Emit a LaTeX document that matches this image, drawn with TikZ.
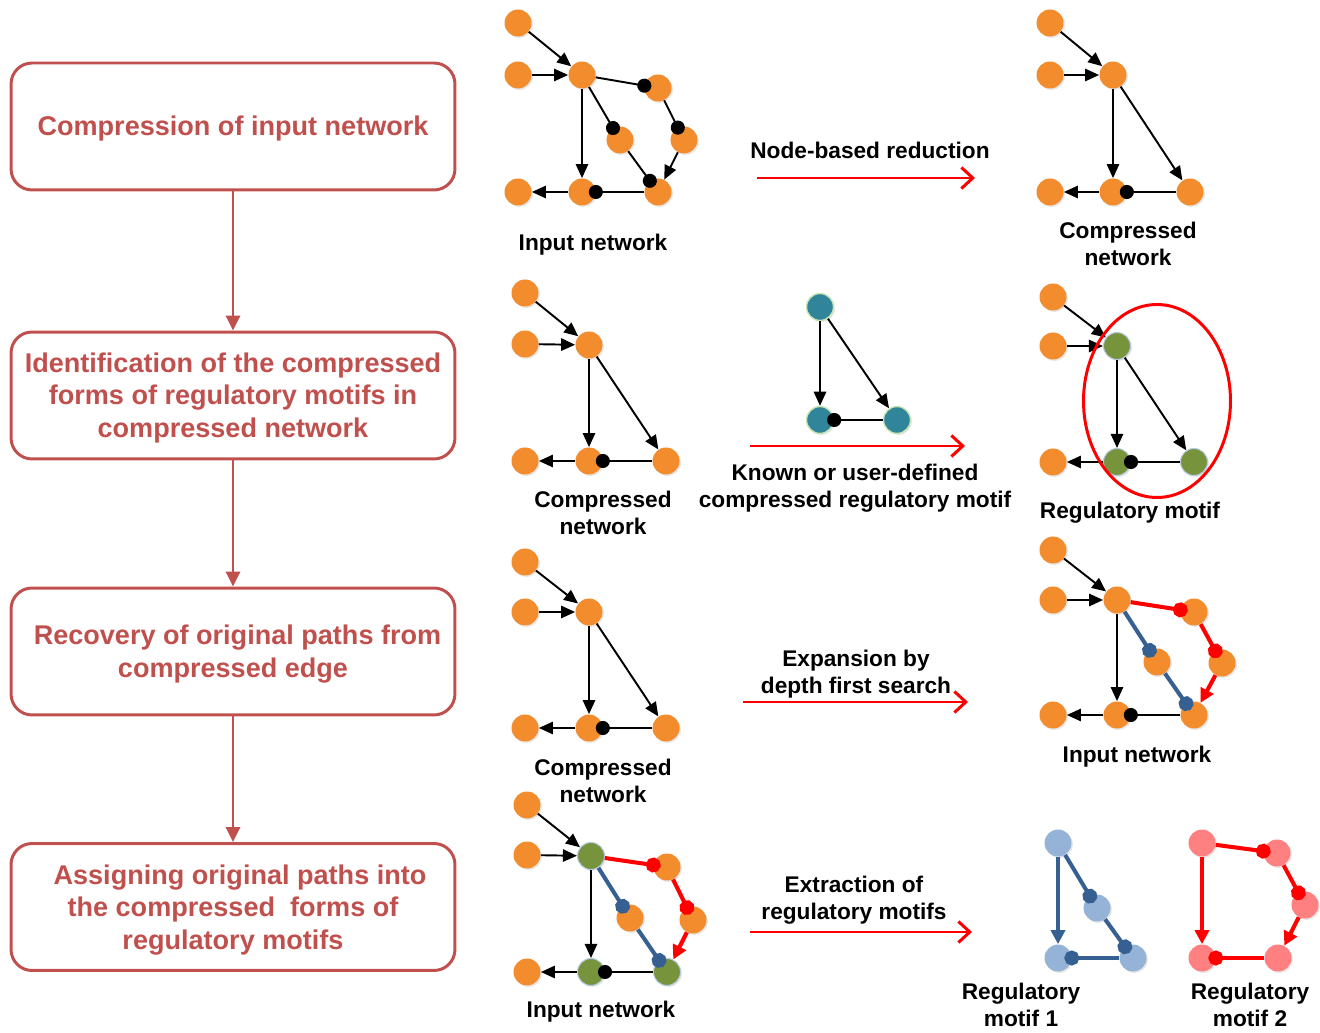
\documentclass[tikz,border=0pt]{standalone}
\usepackage{fontspec}
\setmainfont{Liberation Sans}
\usetikzlibrary{arrows.meta,shadows}

\definecolor{boxred}{RGB}{192,80,77}
\definecolor{nodeorange}{RGB}{242,140,45}
\definecolor{nodegreen}{RGB}{119,147,60}
\definecolor{nodeteal}{RGB}{49,133,155}
\definecolor{lightblue}{RGB}{149,179,215}
\definecolor{lightpink}{RGB}{255,128,128}
\definecolor{pathblue}{RGB}{55,96,146}
\definecolor{rimgreen}{RGB}{200,228,180}

\tikzset{
  stage/.style={draw=boxred, line width=1.7pt, rounded corners=0.42cm,
    minimum width=8.88cm, minimum height=2.54cm},
  stagetext/.style={align=center, text=boxred, inner sep=0pt,
    font=\fontsize{15.4}{18.4}\selectfont\bfseries},
  flow/.style={draw=boxred, line width=1.7pt, -{Triangle[length=8.5pt,width=8pt]}},
  caption/.style={align=center, font=\fontsize{12.9}{15.3}\selectfont\bfseries},
  stepto/.style={red, line width=1.7pt, -{Straight Barb[length=6.5pt,width=12pt]}},
  onode/.style={circle, inner sep=0pt, minimum size=0.54cm, fill=nodeorange,
    drop shadow={opacity=0.2, shadow xshift=0.8pt, shadow yshift=-0.8pt}},
  gnode/.style={onode, fill=nodegreen, draw=lightblue!70, line width=0.6pt},
  tnode/.style={onode, fill=nodeteal, draw=rimgreen, line width=0.8pt},
  bnode/.style={onode, fill=lightblue},
  pnode/.style={onode, fill=lightpink},
  act/.style={line width=1.1pt, -{Triangle[length=8pt,width=7pt]}},
  inh/.style={line width=1.1pt, -{Circle[length=8pt]}, shorten >=-4pt},
  redact/.style={red, line width=2.3pt, -{Triangle[length=8pt,width=8pt]}},
  redinh/.style={red, line width=2.3pt, -{Circle[length=8.5pt]}, shorten >=-4.25pt},
  blueact/.style={pathblue, line width=2.3pt, -{Triangle[length=8pt,width=8pt]}},
  blueinh/.style={pathblue, line width=2.3pt, -{Circle[length=8.5pt]}, shorten >=-4.25pt}
}

\begin{document}
\begin{tikzpicture}[x=0.02cm, y=-0.02cm]
  \useasboundingbox (0,0) rectangle (1320,1033);

  % workflow column
  \node[stage] (s1) at (233,126.5) {};
  \node[stage] (s2) at (233,395.5) {};
  \node[stage] (s3) at (233,651.5) {};
  \node[stage] (s4) at (233,907) {};
  \node[stagetext] (s1t) at (233,129) {Compression of input network};
  \node[stagetext] (s2t) at (233,398) {Identification of the compressed\\forms of regulatory motifs in\\compressed network};
  \node[stagetext] (s3t) at (233,654) {\hspace*{0.18cm}Recovery of original paths from\\compressed edge};
  \node[stagetext] (s4t) at (233,910) {\hspace*{0.28cm}Assigning original paths into\\the compressed\ \ forms of\\regulatory motifs};
  \draw[flow] (s1) -- (s2);
  \draw[flow] (s2) -- (s3);
  \draw[flow] (s3) -- (s4);

  % row 1: input network
  \node[onode] (in1) at (518,23) {};
  \node[onode] (in2) at (518,75) {};
  \node[onode] (in3) at (582,75) {};
  \node[onode] (in4) at (658,88) {};
  \node[onode] (in5) at (620,140) {};
  \node[onode] (in6) at (684,140) {};
  \node[onode] (in7) at (518,192) {};
  \node[onode] (in8) at (582,192) {};
  \node[onode] (in9) at (658,192) {};
  \draw[act] (in1) -- (in3);
  \draw[act] (in2) -- (in3);
  \draw[act] (in3) -- (in8);
  \draw[act] (in6) -- (in9);
  \draw[act] (in8) -- (in7);
  \draw[inh] (in3) -- (in4);
  \draw[inh] (in3) -- (in5);
  \draw[inh] (in4) -- (in6);
  \draw[inh] (in5) -- (in9);
  \draw[inh] (in9) -- (in8);
  \node[caption] (inlab) at (593,245) {Input network};

  \node[caption] (redlab) at (870,150) {Node-based reduction};
  \coordinate (red0) at (757,178);
  \coordinate (red1) at (975,178);
  \draw[stepto] (red0) -- (red1);

  % row 1: compressed network
  \node[onode] (cp1) at (1050,23) {};
  \node[onode] (cp2) at (1050,75) {};
  \node[onode] (cp3) at (1113,75) {};
  \node[onode] (cp4) at (1050,192) {};
  \node[onode] (cp5) at (1113,192) {};
  \node[onode] (cp6) at (1190,192) {};
  \draw[act] (cp1) -- (cp3);
  \draw[act] (cp2) -- (cp3);
  \draw[act] (cp3) -- (cp5);
  \draw[act] (cp3) -- (cp6);
  \draw[act] (cp5) -- (cp4);
  \draw[inh] (cp6) -- (cp5);
  \node[caption] (cplab) at (1128,244) {Compressed\\network};

  % row 2: compressed network
  \node[onode] (cq1) at (525,293) {};
  \node[onode] (cq2) at (525,344) {};
  \node[onode] (cq3) at (589,345) {};
  \node[onode] (cq4) at (525,461) {};
  \node[onode] (cq5) at (589,461) {};
  \node[onode] (cq6) at (666,461) {};
  \draw[act] (cq1) -- (cq3);
  \draw[act] (cq2) -- (cq3);
  \draw[act] (cq3) -- (cq5);
  \draw[act] (cq3) -- (cq6);
  \draw[act] (cq5) -- (cq4);
  \draw[inh] (cq6) -- (cq5);
  \node[caption] (cqlab) at (603,513) {Compressed\\network};

  % row 2: known motif
  \node[tnode] (km1) at (820,307) {};
  \node[tnode] (km2) at (820,420) {};
  \node[tnode] (km3) at (897,420) {};
  \draw[act] (km1) -- (km2);
  \draw[act] (km1) -- (km3);
  \draw[inh] (km3) -- (km2);
  \coordinate (idf0) at (750,446);
  \coordinate (idf1) at (965,446);
  \draw[stepto] (idf0) -- (idf1);
  \node[caption] (kmlab) at (855,488) {Known or user-defined\\compressed regulatory motif};

  % row 2: regulatory motif
  \node[onode] (rm1) at (1053,297) {};
  \node[onode] (rm2) at (1053,346) {};
  \node[gnode] (rm3) at (1117,346) {};
  \node[onode] (rm4) at (1053,462) {};
  \node[gnode] (rm5) at (1117,462) {};
  \node[gnode] (rm6) at (1194,462) {};
  \draw[act] (rm1) -- (rm3);
  \draw[act] (rm2) -- (rm3);
  \draw[act] (rm3) -- (rm5);
  \draw[act] (rm3) -- (rm6);
  \draw[act] (rm5) -- (rm4);
  \draw[inh] (rm6) -- (rm5);
  \draw[red, line width=1.7pt] (1157,401) ellipse [x radius=73.5, y radius=96.5];
  \node[caption] (rmlab) at (1130,513) {Regulatory motif};

  % row 3: compressed network
  \node[onode] (cr1) at (525,562) {};
  \node[onode] (cr2) at (525,612) {};
  \node[onode] (cr3) at (589,612) {};
  \node[onode] (cr4) at (525,728) {};
  \node[onode] (cr5) at (589,728) {};
  \node[onode] (cr6) at (666,728) {};
  \draw[act] (cr1) -- (cr3);
  \draw[act] (cr2) -- (cr3);
  \draw[act] (cr3) -- (cr5);
  \draw[act] (cr3) -- (cr6);
  \draw[act] (cr5) -- (cr4);
  \draw[inh] (cr6) -- (cr5);
  \node[caption] (crlab) at (603,781) {Compressed\\network};

  \node[caption] (exlab) at (856,674) {Expansion by\\depth first search};
  \coordinate (exp0) at (743,702);
  \coordinate (exp1) at (968,702);
  \draw[stepto] (exp0) -- (exp1);

  % row 3: expanded input network
  \node[onode] (ex1) at (1053,550) {};
  \node[onode] (ex2) at (1053,600) {};
  \node[onode] (ex3) at (1117,600) {};
  \node[onode] (ex4) at (1194,612) {};
  \node[onode] (ex5) at (1157,662) {};
  \node[onode] (ex6) at (1222,663) {};
  \node[onode] (ex7) at (1053,715) {};
  \node[onode] (ex8) at (1117,715) {};
  \node[onode] (ex9) at (1194,715) {};
  \draw[act] (ex1) -- (ex3);
  \draw[act] (ex2) -- (ex3);
  \draw[act] (ex3) -- (ex8);
  \draw[act] (ex8) -- (ex7);
  \draw[inh] (ex9) -- (ex8);
  \draw[redinh] (ex3) -- (ex4);
  \draw[redinh] (ex4) -- (ex6);
  \draw[redact] (ex6) -- (ex9);
  \draw[blueinh] (ex3) -- (ex5);
  \draw[blueinh] (ex5) -- (ex9);
  \node[caption] (exnet) at (1137,757) {Input network};

  % row 4: input network with motif paths
  \node[onode] (as1) at (527,805) {};
  \node[onode] (as2) at (527,855) {};
  \node[gnode] (as3) at (591,856) {};
  \node[onode] (as4) at (667,867) {};
  \node[onode] (as5) at (630,918) {};
  \node[onode] (as6) at (693,920) {};
  \node[onode] (as7) at (527,972) {};
  \node[gnode] (as8) at (591,972) {};
  \node[gnode] (as9) at (667,972) {};
  \draw[act] (as1) -- (as3);
  \draw[act] (as2) -- (as3);
  \draw[act] (as3) -- (as8);
  \draw[act] (as8) -- (as7);
  \draw[inh] (as9) -- (as8);
  \draw[redinh] (as3) -- (as4);
  \draw[redinh] (as4) -- (as6);
  \draw[redact] (as6) -- (as9);
  \draw[blueinh] (as3) -- (as5);
  \draw[blueinh] (as5) -- (as9);
  \node[caption] (aslab) at (601,1012) {Input network};

  \node[caption] (xtlab) at (854,900) {Extraction of\\regulatory motifs};
  \coordinate (ext0) at (750,932);
  \coordinate (ext1) at (972,932);
  \draw[stepto] (ext0) -- (ext1);

  % row 4: extracted motifs
  \node[bnode] (ma1) at (1058,843) {};
  \node[bnode] (ma2) at (1097,908) {};
  \node[bnode] (ma3) at (1058,958) {};
  \node[bnode] (ma4) at (1133,958) {};
  \draw[blueact] (ma1) -- (ma3);
  \draw[blueinh] (ma1) -- (ma2);
  \draw[blueinh] (ma2) -- (ma4);
  \draw[blueinh] (ma4) -- (ma3);
  \node[caption] (malab) at (1021,1005) {Regulatory\\motif 1};

  \node[pnode] (mb1) at (1202,843) {};
  \node[pnode] (mb2) at (1277,853) {};
  \node[pnode] (mb3) at (1305,905) {};
  \node[pnode] (mb4) at (1202,958) {};
  \node[pnode] (mb5) at (1278,958) {};
  \draw[redact] (mb1) -- (mb4);
  \draw[redinh] (mb1) -- (mb2);
  \draw[redinh] (mb2) -- (mb3);
  \draw[redact] (mb3) -- (mb5);
  \draw[redinh] (mb5) -- (mb4);
  \node[caption] (mblab) at (1250,1005) {Regulatory\\motif 2};
\end{tikzpicture}
\end{document}
